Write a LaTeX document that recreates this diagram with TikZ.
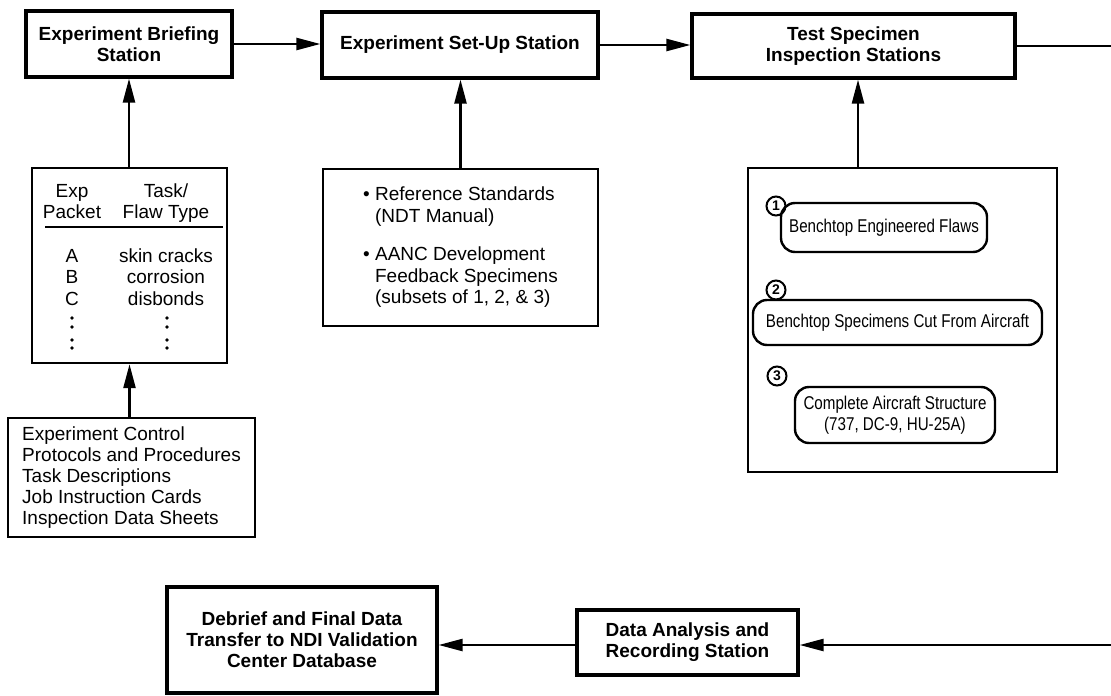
\documentclass[tikz,border=0pt]{standalone}
\usepackage{fontspec}
\setmainfont{Liberation Sans}
\newfontfamily\narrowsans[FakeStretch=0.82]{Liberation Sans}
\usetikzlibrary{arrows.meta}
\begin{document}
\begin{tikzpicture}[x=1pt,y=-1pt,
  station/.style={draw, line width=3.2pt, align=center, inner sep=0pt,
    font=\bfseries\fontsize{19}{21}\selectfont},
  panel/.style={draw, line width=2.4pt, inner sep=0pt},
  oval/.style={draw, line width=2.4pt, rounded corners=14pt, align=center,
    inner sep=0pt, font=\narrowsans\fontsize{18.5}{20.5}\selectfont},
  txt/.style={inner sep=0pt, font=\fontsize{19}{21}\selectfont},
  num/.style={draw, circle, line width=2pt, inner sep=0pt, minimum size=19pt,
    font=\bfseries\fontsize{14}{14}\selectfont},
  dot/.style={fill, circle, inner sep=0pt, minimum size=3.8pt},
  arr/.style={line width=2.4pt, -{Triangle[length=24pt,width=12pt]}},
  link/.style={line width=2.4pt}]
\useasboundingbox (0,0) rectangle (1111,696);

% --- stations along the top
\node[station, minimum width=206pt, minimum height=66pt] (brief) at (129,44)
  {Experiment Briefing\\Station};
\node[station, minimum width=276pt, minimum height=66pt] (setup) at (460,45)
  {Experiment Set-Up Station};
\node[station, minimum width=323pt, minimum height=64pt] (test) at (853.5,46)
  {Test Specimen\\Inspection Stations};

% --- experiment packet table
\node[panel, minimum width=195pt, minimum height=195pt] (packets) at (129.5,265.5) {};
\node[txt, anchor=base] (hexp)  at (72,197)  {Exp};
\node[txt, anchor=base] (hpack) at (72,218)  {Packet};
\node[txt, anchor=base] (htask) at (166,197) {Task/};
\node[txt, anchor=base] (hflaw) at (166,218) {Flaw Type};
\coordinate (ruleL) at (45,227);
\coordinate (ruleR) at (223,227);
\draw[line width=2.4pt] (ruleL) -- (ruleR);
\node[txt, anchor=base] (pa) at (72,262) {A};
\node[txt, anchor=base] (pb) at (72,283) {B};
\node[txt, anchor=base] (pc) at (72,305) {C};
\node[txt, anchor=base] (fa) at (166,262) {skin cracks};
\node[txt, anchor=base] (fb) at (166,283) {corrosion};
\node[txt, anchor=base] (fc) at (166,305) {disbonds};
\foreach \y [count=\i] in {318,327,340,348} {
  \node[dot] (pdot\i) at (72,\y) {};
  \node[dot] (fdot\i) at (167,\y) {};
}

% --- control documents
\node[panel, minimum width=247pt, minimum height=119pt, align=left,
  font=\fontsize{19}{21.2}\selectfont] (control) at (131.5,477.5)
  {Experiment Control\\Protocols and Procedures\\Task Descriptions\\
   Job Instruction Cards\\Inspection Data Sheets};

% --- set-up resources
\node[panel, minimum width=275pt, minimum height=157pt, align=left,
  font=\fontsize{19}{21.5}\selectfont] (resources) at (460.5,247.5)
  {\textbullet\ Reference Standards\\
   \phantom{\textbullet\ }(NDT Manual)\\[17pt]
   \textbullet\ AANC Development\\
   \phantom{\textbullet\ }Feedback Specimens\\
   \phantom{\textbullet\ }(subsets of 1, 2, \& 3)};

% --- specimen categories
\node[panel, minimum width=309pt, minimum height=304pt] (specs) at (902.5,320) {};
\node[oval, minimum width=206pt, minimum height=49pt] (eng) at (884,227.5)
  {Benchtop Engineered Flaws};
\node[oval, minimum width=289pt, minimum height=45pt] (cut) at (897.5,322.5)
  {Benchtop Specimens Cut From Aircraft};
\node[oval, minimum width=200pt, minimum height=56pt] (whole) at (895,415)
  {Complete Aircraft Structure\\(737, DC-9, HU-25A)};
\node[num] (n1) at (776,206) {1};
\node[num] (n2) at (776,290) {2};
\node[num] (n3) at (777,376) {3};

% --- stations along the bottom
\node[station, minimum width=270pt, minimum height=106pt] (debrief) at (302,640)
  {Debrief and Final Data\\Transfer to NDI Validation\\Center Database};
\node[station, minimum width=221pt, minimum height=65pt] (data) at (687.5,642.5)
  {Data Analysis and\\Recording Station};

% --- connectors
\coordinate (outR) at (1111,46);
\coordinate (inR)  at (1111,645);
\coordinate (back) at ([yshift=-2.5pt]data.west);
\draw[arr] (brief.east) -- (brief.east -| setup.west);
\draw[arr] (setup.east) -- (setup.east -| test.west);
\draw[link] (test.east) -- (outR);
\draw[arr] (packets.north -| brief.south) -- (brief.south);
\draw[arr] (resources.north) -- (resources.north |- setup.south);
\draw[arr] ([xshift=4.5pt]specs.north -| test.south) -- ([xshift=4.5pt]test.south);
\draw[arr] (control.north -| packets.south) -- (packets.south);
\draw[arr] (inR) -- (inR -| data.east);
\draw[arr] (back) -- (back -| debrief.east);
\end{tikzpicture}
\end{document}
